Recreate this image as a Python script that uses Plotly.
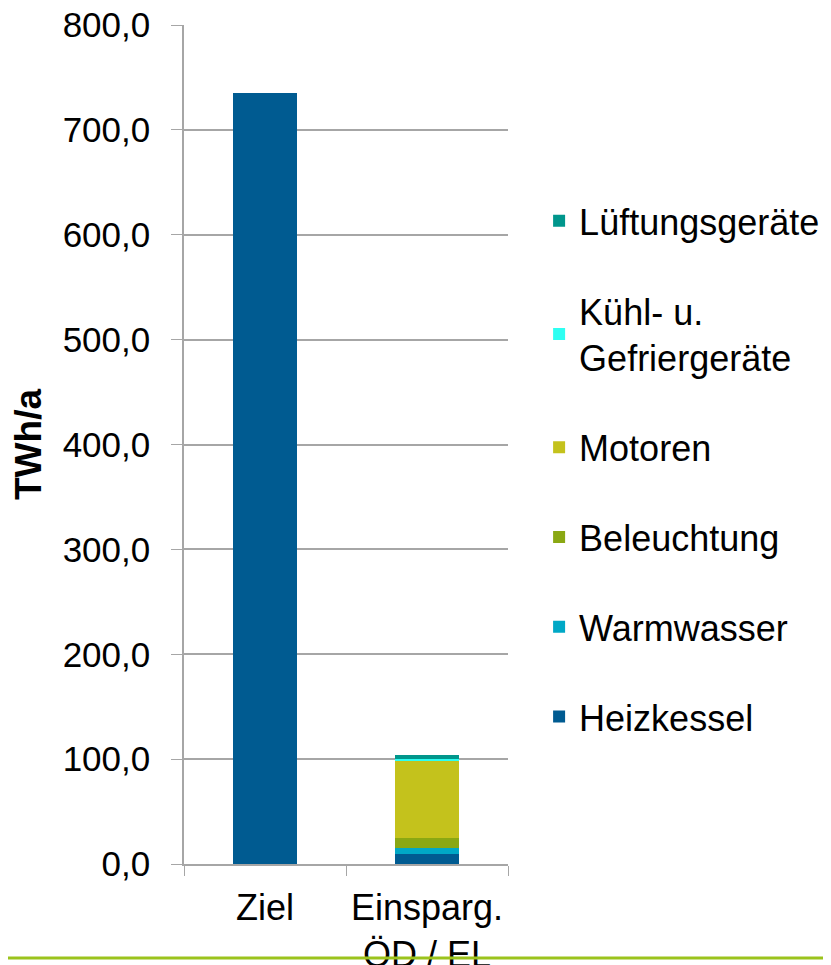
import plotly.graph_objects as go

categories = ["Ziel", "Einsparg.<br>ÖD / EL"]
series_names = ["Heizkessel", "Warmwasser", "Beleuchtung", "Motoren",
                "Kühl- u.<br>Gefriergeräte", "Lüftungsgeräte"]
series_values = [
    [735.0, 9.8],
    [0.0, 5.7],
    [0.0, 9.2],
    [0.0, 74.0],
    [0.0, 1.9],
    [0.0, 3.8],
]
colors = ["#005B91", "#00A8C6", "#8AA813", "#C4C21C", "#2EFFF2", "#00968C"]
y_ticks = [0, 100, 200, 300, 400, 500, 600, 700, 800]

fig = go.Figure()
n = len(series_names)
for i, (name, vals) in enumerate(zip(series_names, series_values)):
    fig.add_trace(go.Bar(x=categories, y=vals, name=name, marker_color=colors[i],
                         marker_line_width=0, legendgroup=f"g{i}",
                         legendrank=(n - i) * 10))

font = "Liberation Sans, Arial, sans-serif"
fig.update_layout(
    barmode="stack",
    bargap=0.6,
    width=831, height=965,
    margin=dict(l=176, r=331, t=17, b=109),
    plot_bgcolor="white", paper_bgcolor="white",
    separators=",.",
    font=dict(family=font, size=35, color="black"),
    legend=dict(traceorder="grouped", tracegroupgap=40,
                x=1.096, xanchor="left", y=0.471, yanchor="middle",
                font=dict(size=36), itemwidth=30),
    showlegend=True,
)
fig.update_yaxes(range=[0, 800], tickvals=y_ticks, tickformat=".1f",
                 tickfont=dict(size=35), automargin=False, ticklabeloverflow="allow",
                 showgrid=True, gridcolor="#A6A6A6", gridwidth=1.5,
                 showline=True, linecolor="#A6A6A6", linewidth=1.5,
                 ticks="outside", ticklen=11, tickcolor="#A6A6A6",
                 zeroline=False, ticklabelstandoff=14,
                 title=dict(text="<b>TWh/a</b>", font=dict(size=37), standoff=23))
fig.update_xaxes(showline=True, linecolor="#A6A6A6", linewidth=1.5, automargin=False,
                 tickfont=dict(size=36), ticklabeloverflow="allow",
                 ticks="outside", ticklen=10, tickcolor="#A6A6A6", tickson="boundaries",
                 ticklabelstandoff=11)
fig.add_shape(type="line", xref="paper", yref="paper", x0=-176/324, x1=655/324,
              y0=-94/839, y1=-94/839, line=dict(color="#9BC31C", width=3))
fig.write_html("out.html")
